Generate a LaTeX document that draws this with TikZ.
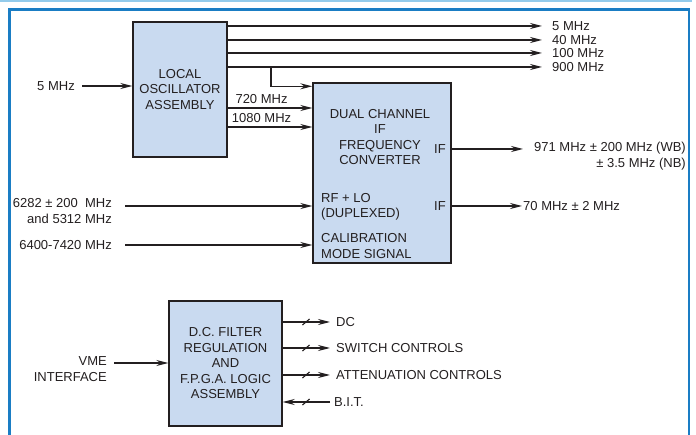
\documentclass[tikz,border=0pt]{standalone}
\usepackage{fontspec}
\setmainfont{Liberation Sans}
\usetikzlibrary{positioning, arrows.meta, calc}
\definecolor{frameblue}{HTML}{1A7DC4}
\definecolor{lightblue}{HTML}{93CBEB}
\definecolor{boxblue}{HTML}{C9DAF0}
\definecolor{ink}{HTML}{231F20}
\tikzset{
    bus/.pic = {
    \draw[ink, line width=1.1pt] (-#1,0.85*#1) -- (#1,-0.85*#1);
    },
    block/.style={draw=ink, line width=1.4pt, fill=boxblue, align=center, inner sep=0pt, text=ink},
    sig/.style={draw=ink, line width=1.3pt, -{Stealth[length=12pt, width=6pt, inset=4pt]}},
    lbl/.style={inner sep=0pt, text=ink},
}

\begin{document}
\begin{tikzpicture}[x=1pt, y=-1pt, font=\fontsize{13}{15.5}\selectfont]
    \useasboundingbox (0,0) rectangle (696,435);
    \fill[lightblue] (0,0) rectangle (692,2.2);
    \draw[frameblue, line width=2.8pt] (9.3,436) -- (9.3,9.3) -- (689,9.3) -- (689,436);

    \node[block, minimum width=94pt, minimum height=135pt] (lo) at (180,89.5) {LOCAL\\OSCILLATOR\\ASSEMBLY};
    \node[block, minimum width=138pt, minimum height=180pt] (cv) at (382,173) {};
    \node[lbl, align=center] (cvt) at (380,137) {DUAL CHANNEL\\IF\\FREQUENCY\\CONVERTER};
    \node[lbl] (if1) at (440,149) {IF};
    \node[lbl] (if2) at (440,206) {IF};
    \node[lbl, align=left, anchor=west] (rf) at (321,207) {RF + LO\\(DUPLEXED)};
    \node[lbl, align=left, anchor=west] (cal) at (321,246) {CALIBRATION\\MODE SIGNAL};
    \node[block, minimum width=113pt, minimum height=125pt] (lg) at (225.5,363.5) {D.C. FILTER\\REGULATION\\AND\\F.P.G.A. LOGIC\\ASSEMBLY};

    \foreach \y/\f [count=\i] in {26/5, 40/40, 53/100, 67/900} {
      \coordinate (o\i) at (542,\y);
      \draw[sig] (o\i -| lo.east) -- (o\i);
      \node[lbl, right=10pt of o\i] {\f\ MHz};
    }
    \coordinate (br) at (271,67);
    \draw[sig] (br) |- ([yshift=-4pt]cv.north west);

    \draw[sig] ([yshift=-18.5pt]lo.east) coordinate (a1) -- node[lbl, above=4pt, pos=0.4] {720 MHz} (a1 -| cv.west);
    \draw[sig] ([yshift=-37.5pt]lo.east) coordinate (a2) -- node[lbl, above=4pt, pos=0.4] {1080 MHz} (a2 -| cv.west);

    \coordinate (e1) at (523,149);
    \draw[sig] (if1 -| cv.east) -- (e1);
    \node[lbl, align=right, anchor=east] (w1) at (686,156) {971 MHz ± 200 MHz (WB)\\± 3.5 MHz (NB)};
    \coordinate (e2) at (522,206);
    \draw[sig] (if2 -| cv.east) -- (e2);
    \node[lbl, right=1pt of e2] {70 MHz ± 2 MHz};

    \coordinate (i1) at (82,86);
    \draw[sig] (i1) -- (i1 -| lo.west);
    \node[lbl, left=7pt of i1] {5 MHz};
    \coordinate (i2) at (125,206);
    \draw[sig] (i2) -- (i2 -| cv.west);
    \node[lbl, align=right, anchor=north east] at ($(i2)+(-13,-7.5)$) {6282 ± 200\ \ MHz\\and 5312 MHz};
    \coordinate (i3) at (125,245);
    \draw[sig] (i3) -- (i3 -| cv.west);
    \node[lbl, left=13pt of i3] {6400-7420 MHz};

    \coordinate (v) at (114,363);
    \draw[sig] (v) -- (v -| lg.west);
    \node[lbl, align=right, anchor=north east] at ($(v)+(-7,-6.5)$) {VME\\INTERFACE};

    \foreach \y/\t [count=\i] in {322/DC, 348/SWITCH CONTROLS, 375/ATTENUATION CONTROLS} {
      \coordinate (b\i) at (330,\y);
      \draw[sig] (b\i -| lg.east) -- (b\i);
      \pic at ([xshift=-24pt]b\i) {bus=3.6};
      \node[lbl, right=6pt of b\i] {\t};
    }
    \coordinate (b4) at (330,402);
    \draw[sig] (b4) -- (b4 -| lg.east);
    \pic at ([xshift=-24pt]b4) {bus=3.6};
    \node[lbl, right=4pt of b4] {B.I.T.};
\end{tikzpicture}
\end{document}
